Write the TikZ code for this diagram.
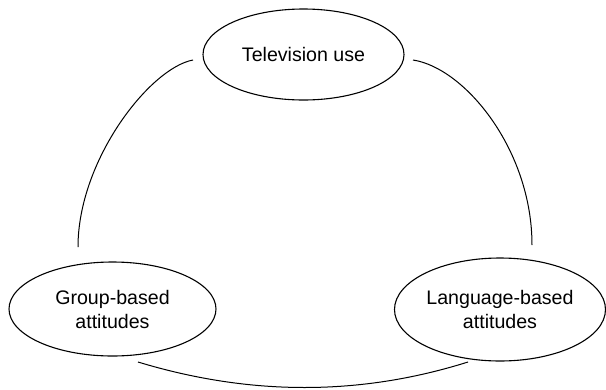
\documentclass[tikz,border=0pt]{standalone}
\usepackage{fontspec}
\setmainfont{Liberation Sans}
\usetikzlibrary{shapes.geometric}
\tikzset{
  oval/.style={ellipse, draw=black, line width=1.1pt, inner sep=0pt, align=center,
    font=\fontsize{19.6}{24}\selectfont},
  link/.style={draw=black, line width=1pt}
}
\begin{document}
\begin{tikzpicture}[x=1pt,y=-1pt]
\useasboundingbox (0,0) rectangle (606,389);
\node[oval, minimum width=201pt, minimum height=91pt] (tv) at (303.5,54.5) {Television use};
\node[oval, minimum width=207pt, minimum height=94pt] (grp) at (112.5,309) {Group-based\\attitudes};
\node[oval, minimum width=211pt, minimum height=103pt] (lang) at (500,309.5) {Language-based\\attitudes};
\coordinate (a1) at (193,60);
\coordinate (a2) at (78,247);
\coordinate (b1) at (413,60);
\coordinate (b2) at (532,245);
\coordinate (c1) at (138,362);
\coordinate (c2) at (468,362);
\draw[link] (a1) .. controls (150,68) and (78,160) .. (a2);
\draw[link] (b1) .. controls (465,68) and (532,150) .. (b2);
\draw[link] (c1) .. controls (250,396) and (360,396) .. (c2);
\end{tikzpicture}
\end{document}
